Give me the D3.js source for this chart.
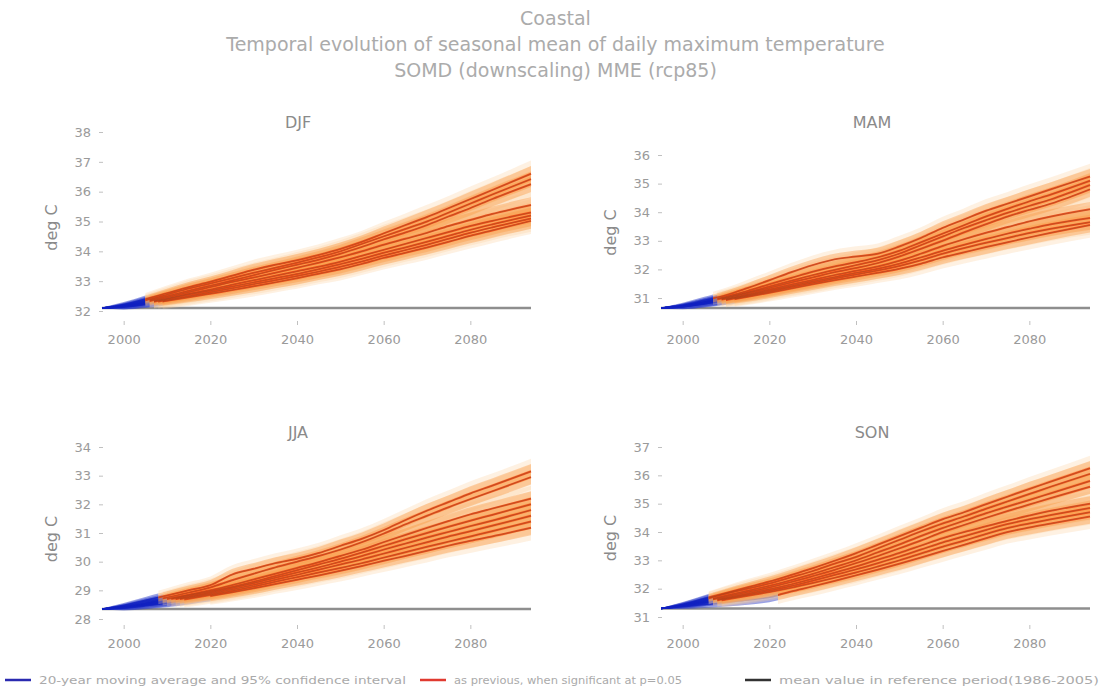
<!DOCTYPE html>
<html><head><meta charset="utf-8">
<script src="https://cdn.jsdelivr.net/npm/d3@7"></script>
<style>body{margin:0;background:#fff} text{font-family:"DejaVu Sans",sans-serif}</style>
</head><body><svg id="c" width="1111" height="688"></svg>
<script>
// ---------------- data ----------------
const titleLines = ["Coastal", "Temporal evolution of seasonal mean of daily maximum temperature", "SOMD (downscaling) MME (rcp85)"];
const seasons = ["DJF", "MAM", "JJA", "SON"];
const years = [1995, 2000, 2005, 2010, 2015, 2020, 2025, 2030, 2035, 2040, 2045, 2050, 2055, 2060, 2065, 2070, 2075, 2080, 2085, 2094];
const ciHalf = [0.02, 0.08, 0.12, 0.15, 0.17, 0.18, 0.19, 0.20, 0.20, 0.21, 0.21, 0.22, 0.22, 0.23, 0.23, 0.24, 0.24, 0.25, 0.25, 0.26];
const xTicks = [2000, 2020, 2040, 2060, 2080];

const djfTicks = [32, 33, 34, 35, 36, 37, 38];
const mamTicks = [31, 32, 33, 34, 35, 36];
const jjaTicks = [28, 29, 30, 31, 32, 33, 34];
const sonTicks = [31, 32, 33, 34, 35, 36, 37];

const baselines = [32.1, 30.65, 28.35, 31.3];

const djf = [
  [32.10, 32.22, 32.40, 32.60, 32.80, 32.98, 33.18, 33.38, 33.55, 33.70, 33.88, 34.08, 34.32, 34.60, 34.88, 35.15, 35.45, 35.75, 36.05, 36.60],
  [32.10, 32.20, 32.36, 32.55, 32.75, 32.92, 33.10, 33.28, 33.45, 33.62, 33.80, 34.00, 34.25, 34.50, 34.75, 35.00, 35.30, 35.60, 35.90, 36.42],
  [32.10, 32.18, 32.33, 32.50, 32.68, 32.85, 33.02, 33.20, 33.38, 33.55, 33.72, 33.92, 34.15, 34.40, 34.63, 34.88, 35.17, 35.45, 35.75, 36.25],
  [32.10, 32.17, 32.30, 32.46, 32.63, 32.80, 32.97, 33.12, 33.28, 33.45, 33.62, 33.80, 34.00, 34.22, 34.42, 34.62, 34.85, 35.05, 35.25, 35.55],
  [32.10, 32.16, 32.28, 32.42, 32.58, 32.72, 32.88, 33.03, 33.18, 33.33, 33.48, 33.65, 33.85, 34.05, 34.25, 34.45, 34.65, 34.85, 35.02, 35.30],
  [32.10, 32.15, 32.26, 32.40, 32.55, 32.68, 32.82, 32.96, 33.10, 33.24, 33.40, 33.57, 33.75, 33.95, 34.13, 34.32, 34.52, 34.72, 34.90, 35.20],
  [32.10, 32.14, 32.24, 32.37, 32.50, 32.63, 32.76, 32.90, 33.03, 33.17, 33.32, 33.48, 33.66, 33.86, 34.04, 34.22, 34.42, 34.62, 34.80, 35.10],
  [32.10, 32.13, 32.22, 32.34, 32.46, 32.58, 32.70, 32.83, 32.96, 33.10, 33.25, 33.40, 33.58, 33.78, 33.95, 34.13, 34.32, 34.52, 34.70, 35.02]
];
const mam = [
  [30.65, 30.75, 30.92, 31.10, 31.35, 31.62, 31.90, 32.15, 32.35, 32.45, 32.55, 32.80, 33.10, 33.45, 33.75, 34.05, 34.30, 34.55, 34.80, 35.25],
  [30.65, 30.73, 30.88, 31.05, 31.25, 31.48, 31.70, 31.92, 32.10, 32.25, 32.42, 32.65, 32.95, 33.25, 33.55, 33.85, 34.12, 34.38, 34.62, 35.10],
  [30.65, 30.72, 30.86, 31.02, 31.20, 31.40, 31.60, 31.80, 31.98, 32.15, 32.32, 32.55, 32.85, 33.15, 33.45, 33.72, 33.98, 34.22, 34.45, 34.95],
  [30.65, 30.72, 30.85, 31.00, 31.17, 31.35, 31.54, 31.72, 31.90, 32.05, 32.22, 32.45, 32.72, 33.00, 33.30, 33.58, 33.85, 34.08, 34.30, 34.80],
  [30.65, 30.71, 30.83, 30.97, 31.13, 31.30, 31.47, 31.63, 31.80, 31.95, 32.10, 32.30, 32.55, 32.82, 33.06, 33.28, 33.48, 33.68, 33.85, 34.10],
  [30.65, 30.70, 30.82, 30.95, 31.10, 31.26, 31.42, 31.58, 31.73, 31.88, 32.02, 32.20, 32.42, 32.65, 32.86, 33.06, 33.25, 33.42, 33.58, 33.80],
  [30.65, 30.70, 30.80, 30.93, 31.07, 31.22, 31.38, 31.53, 31.68, 31.82, 31.96, 32.12, 32.32, 32.55, 32.75, 32.93, 33.10, 33.27, 33.42, 33.65],
  [30.65, 30.69, 30.79, 30.91, 31.04, 31.18, 31.33, 31.48, 31.62, 31.75, 31.88, 32.02, 32.20, 32.42, 32.60, 32.78, 32.95, 33.12, 33.28, 33.55]
];
const jja = [
  [28.35, 28.48, 28.65, 28.82, 29.00, 29.18, 29.55, 29.75, 29.95, 30.10, 30.30, 30.55, 30.80, 31.10, 31.45, 31.78, 32.08, 32.38, 32.65, 33.15],
  [28.35, 28.45, 28.60, 28.75, 28.92, 29.10, 29.35, 29.58, 29.80, 30.00, 30.20, 30.42, 30.68, 30.98, 31.30, 31.60, 31.90, 32.18, 32.45, 32.95],
  [28.35, 28.43, 28.56, 28.70, 28.85, 29.00, 29.18, 29.38, 29.58, 29.78, 29.98, 30.20, 30.42, 30.68, 30.93, 31.18, 31.42, 31.65, 31.85, 32.20],
  [28.35, 28.42, 28.54, 28.67, 28.82, 28.96, 29.12, 29.30, 29.50, 29.70, 29.90, 30.10, 30.32, 30.55, 30.78, 31.00, 31.22, 31.43, 31.63, 32.00],
  [28.35, 28.41, 28.52, 28.64, 28.78, 28.92, 29.08, 29.25, 29.44, 29.62, 29.80, 30.00, 30.20, 30.42, 30.63, 30.84, 31.04, 31.24, 31.43, 31.80],
  [28.35, 28.40, 28.50, 28.62, 28.75, 28.88, 29.03, 29.19, 29.37, 29.54, 29.72, 29.90, 30.08, 30.28, 30.48, 30.68, 30.88, 31.06, 31.25, 31.60],
  [28.35, 28.39, 28.48, 28.59, 28.71, 28.84, 28.98, 29.13, 29.30, 29.46, 29.62, 29.78, 29.95, 30.14, 30.33, 30.52, 30.70, 30.88, 31.06, 31.40],
  [28.35, 28.38, 28.46, 28.56, 28.68, 28.80, 28.93, 29.07, 29.22, 29.37, 29.52, 29.68, 29.85, 30.03, 30.20, 30.38, 30.56, 30.73, 30.88, 31.18]
];
const son = [
  [31.30, 31.45, 31.65, 31.85, 32.05, 32.25, 32.48, 32.72, 32.98, 33.25, 33.55, 33.85, 34.15, 34.45, 34.70, 34.98, 35.25, 35.52, 35.78, 36.25],
  [31.30, 31.43, 31.62, 31.82, 32.00, 32.18, 32.40, 32.62, 32.88, 33.12, 33.42, 33.72, 34.02, 34.30, 34.55, 34.82, 35.08, 35.34, 35.60, 36.05],
  [31.30, 31.42, 31.58, 31.76, 31.93, 32.10, 32.30, 32.52, 32.76, 33.00, 33.28, 33.56, 33.86, 34.14, 34.40, 34.66, 34.90, 35.13, 35.37, 35.80],
  [31.30, 31.41, 31.56, 31.72, 31.88, 32.04, 32.23, 32.44, 32.66, 32.90, 33.15, 33.42, 33.70, 34.00, 34.25, 34.50, 34.74, 34.97, 35.20, 35.60],
  [31.30, 31.40, 31.53, 31.68, 31.83, 31.98, 32.15, 32.35, 32.56, 32.78, 33.02, 33.26, 33.52, 33.78, 34.00, 34.20, 34.40, 34.58, 34.75, 35.00],
  [31.30, 31.39, 31.51, 31.65, 31.79, 31.93, 32.09, 32.28, 32.48, 32.68, 32.90, 33.13, 33.38, 33.63, 33.85, 34.07, 34.28, 34.45, 34.60, 34.85],
  [31.30, 31.38, 31.49, 31.62, 31.75, 31.88, 32.03, 32.20, 32.38, 32.57, 32.78, 33.00, 33.24, 33.48, 33.70, 33.93, 34.14, 34.30, 34.45, 34.70],
  [31.30, 31.36, 31.44, 31.52, 31.60, 31.70, 31.90, 32.08, 32.27, 32.47, 32.67, 32.88, 33.10, 33.33, 33.55, 33.78, 34.00, 34.16, 34.30, 34.55]
];
// first year from which each model's change is significant
const djfSig = [2005, 2005, 2006, 2006, 2007, 2007, 2008, 2009];
const mamSig = [2007, 2008, 2008, 2009, 2009, 2010, 2010, 2012];
const jjaSig = [2008, 2009, 2010, 2011, 2012, 2013, 2014, 2020];
const sonSig = [2006, 2006, 2007, 2007, 2008, 2008, 2009, 2022];

const legendLabels = ["20-year moving average and 95% confidence interval", "as previous, when significant at p=0.05", "mean value in reference period(1986-2005)"];

// ---------------- layout ----------------
const svg = d3.select("#c");
const panels = [
  {name: seasons[0], data: djf, sig: djfSig, ticks: djfTicks, base: baselines[0], x0: 102, x1: 531, yr: [311, 132], axY: 321, tx: 298, ty: 128},
  {name: seasons[1], data: mam, sig: mamSig, ticks: mamTicks, base: baselines[1], x0: 661, x1: 1090, yr: [298, 155], axY: 321, tx: 872, ty: 128},
  {name: seasons[2], data: jja, sig: jjaSig, ticks: jjaTicks, base: baselines[2], x0: 102, x1: 531, yr: [619, 447], axY: 625, tx: 298, ty: 438},
  {name: seasons[3], data: son, sig: sonSig, ticks: sonTicks, base: baselines[3], x0: 661, x1: 1090, yr: [617, 447], axY: 625, tx: 872, ty: 438}
];
const txtCol = "#9a9a9a";

titleLines.forEach((t, i) => {
  svg.append("text").attr("x", 555.5).attr("y", [25, 51, 77][i])
    .attr("text-anchor", "middle").attr("font-size", 19).attr("fill", "#ababab").text(t);
});

const defs = svg.append("defs");

panels.forEach((p, pi) => {
  const g = svg.append("g");
  const x = d3.scaleLinear().domain([years[0], years[years.length - 1]]).range([p.x0, p.x1]);
  const y = d3.scaleLinear().domain([p.ticks[0], p.ticks[p.ticks.length - 1]]).range(p.yr);

  g.append("text").attr("x", p.tx).attr("y", p.ty)
    .attr("text-anchor", "middle").attr("font-size", 16).attr("fill", "#8a8a8a").text(p.name);

  g.append("text").attr("transform", `translate(${p.x0 - 45},${(p.yr[0] + p.yr[1]) / 2 + 6}) rotate(-90)`)
    .attr("text-anchor", "middle").attr("font-size", 16).attr("fill", "#8a8a8a").text("deg C");

  const ya = g.append("g").attr("transform", `translate(${p.x0 + 1},0)`)
    .call(d3.axisLeft(y).tickValues(p.ticks).tickSize(4).tickPadding(8).tickFormat(d3.format("d")));
  const xa = g.append("g").attr("transform", `translate(0,${p.axY})`)
    .call(d3.axisBottom(x).tickValues(xTicks).tickSize(4).tickPadding(10).tickFormat(d3.format("d")));
  [ya, xa].forEach(a => {
    a.select(".domain").remove();
    a.selectAll(".tick line").attr("stroke", "#c0c0c0");
    a.selectAll(".tick text").attr("fill", txtCol).attr("font-size", 13).attr("font-family", "DejaVu Sans");
  });

  g.append("line").attr("x1", x(years[0])).attr("x2", x(years[years.length - 1]))
    .attr("y1", y(p.base)).attr("y2", y(p.base)).attr("stroke", "#8e8e8e").attr("stroke-width", 2.5);

  const area = d3.area().x((d, i) => x(years[i]))
    .y0((d, i) => y(d - ciHalf[i])).y1((d, i) => y(d + ciHalf[i])).curve(d3.curveMonotoneX);
  const glow = d3.area().x((d, i) => x(years[i]))
    .y0((d, i) => y(d - ciHalf[i] * 1.7)).y1((d, i) => y(d + ciHalf[i] * 1.7)).curve(d3.curveMonotoneX);
  const line = d3.line().x((d, i) => x(years[i])).y(d => y(d)).curve(d3.curveMonotoneX);

  p.data.forEach((s, mi) => {
    defs.append("clipPath").attr("id", `r${pi}_${mi}`).append("rect")
      .attr("x", x(p.sig[mi])).attr("y", 0).attr("width", p.x1 + 10 - x(p.sig[mi])).attr("height", 688);
    defs.append("clipPath").attr("id", `b${pi}_${mi}`).append("rect")
      .attr("x", p.x0 - 10).attr("y", 0).attr("width", x(p.sig[mi]) - p.x0 + 10).attr("height", 688);
  });

  // non-significant part (blue), drawn underneath
  const blue = g.append("g");
  p.data.forEach((s, mi) => blue.append("path").attr("d", area(s)).attr("clip-path", `url(#b${pi}_${mi})`)
    .attr("fill", "#3344cc").attr("fill-opacity", 0.5));
  p.data.forEach((s, mi) => blue.append("path").attr("d", line(s)).attr("clip-path", `url(#b${pi}_${mi})`)
    .attr("fill", "none").attr("stroke", "#1020c0").attr("stroke-width", 1.6).attr("stroke-opacity", 0.8));

  // significant part (red/orange)
  const red = g.append("g");
  p.data.forEach((s, mi) => red.append("path").attr("d", glow(s)).attr("clip-path", `url(#r${pi}_${mi})`)
    .attr("fill", "#fdd0a0").attr("fill-opacity", 0.3));
  p.data.forEach((s, mi) => red.append("path").attr("d", area(s)).attr("clip-path", `url(#r${pi}_${mi})`)
    .attr("fill", "#f99a45").attr("fill-opacity", 0.4));
  p.data.forEach((s, mi) => red.append("path").attr("d", line(s)).attr("clip-path", `url(#r${pi}_${mi})`)
    .attr("fill", "none").attr("stroke", "#f0400e").attr("stroke-width", 2).attr("stroke-opacity", 0.85));
  p.data.forEach((s, mi) => red.append("path").attr("d", line(s)).attr("clip-path", `url(#r${pi}_${mi})`)
    .attr("fill", "none").attr("stroke", "#6a4a2a").attr("stroke-width", 0.5).attr("stroke-opacity", 0.7));
});

// legend
const legCols = ["#2a2ab0", "#e03a30", "#333333"];
const legX = [5, 420, 745];
const legLen = [367, 228, 320];
legendLabels.forEach((t, i) => {
  svg.append("line").attr("x1", legX[i]).attr("x2", legX[i] + 26).attr("y1", 680).attr("y2", 680)
    .attr("stroke", legCols[i]).attr("stroke-width", 2.5);
  svg.append("text").attr("x", legX[i] + 34).attr("y", 684).attr("font-size", 11)
    .attr("textLength", legLen[i]).attr("lengthAdjust", "spacingAndGlyphs")
    .attr("fill", "#aaaaaa").text(t);
});
</script></body></html>
